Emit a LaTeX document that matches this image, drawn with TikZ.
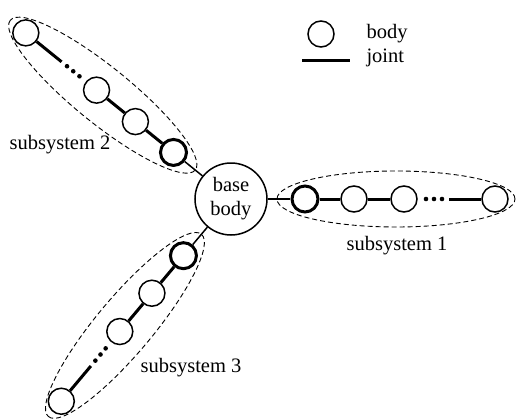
\documentclass[tikz,border=0pt]{standalone}
\usepackage{fontspec}
\setmainfont{Liberation Serif}
\usepackage{tikz}
\usetikzlibrary{shapes.geometric,positioning}
\tikzstyle{body}=[draw,circle,line width=1.5pt,minimum size=26pt,inner sep=0pt]
\tikzstyle{firstbody}=[body,line width=3pt]
\tikzstyle{basebody}=[draw,circle,line width=1.5pt,minimum size=72pt,inner sep=0pt,align=center]
\tikzstyle{joint}=[line width=3pt]
\tikzstyle{subsys}=[draw,dash pattern=on 5pt off 3pt,ellipse,line width=0.9pt,minimum width=238pt,minimum height=56pt,inner sep=0pt]

\begin{document}
\begin{tikzpicture}[x=1pt, y=1pt, font=\fontsize{20.5}{24}\selectfont]
    \useasboundingbox (-231,-219) rectangle (286,199);
    % Place base body
    \node[basebody] (base) at (0,0) {base\\body};

    % subsystem 1
    \node[subsys] (s1) at (0:165) {};
    \node[firstbody] (a1) at (0:74) {};
    \node[body] (a2) at (0:123) {};
    \node[body] (a3) at (0:173) {};
    \node[body] (a4) at (0:264) {};
    \coordinate (ea) at (0:218);
    \fill (0:195) circle (2.3) (0:203) circle (2.3) (0:211) circle (2.3);
    \node (l1) at (166,-47) {subsystem 1};

    % subsystem 2
    \node[subsys, rotate=141] (s2) at (141:165) {};
    \node[firstbody] (b1) at (141:74) {};
    \node[body] (b2) at (141:123) {};
    \node[body] (b3) at (141:173) {};
    \node[body] (b4) at (141:264) {};
    \coordinate (eb) at (141:218);
    \fill (141:195) circle (2.3) (141:203) circle (2.3) (141:211) circle (2.3);
    \node (l2) at (-171,54) {subsystem 2};

    % subsystem 3
    \node[subsys, rotate=230] (s3) at (230:165) {};
    \node[firstbody] (c1) at (230:74) {};
    \node[body] (c2) at (230:123) {};
    \node[body] (c3) at (230:173) {};
    \node[body] (c4) at (230:264) {};
    \coordinate (ec) at (230:218);
    \fill (230:195) circle (2.3) (230:203) circle (2.3) (230:211) circle (2.3);
    \node (l3) at (-40,-169) {subsystem 3};

     \path[line width=1.5pt] (base) edge (a1);
     \path[joint] (a1) edge (a2);
     \path[joint] (a2) edge (a3);
     \path[joint] (ea) edge (a4);

     \path[line width=1.5pt] (base) edge (b1);
     \path[joint] (b1) edge (b2);
     \path[joint] (b2) edge (b3);
     \path[joint] (eb) edge (b4);

     \path[line width=1.5pt] (base) edge (c1);
     \path[joint] (c1) edge (c2);
     \path[joint] (c2) edge (c3);
     \path[joint] (ec) edge (c4);

    % legend
    \node[body] (lb) at (90,165) {};
    \coordinate (lj1) at (71,139);
    \coordinate (lj2) at (119,139);
    \path[joint] (lj1) edge (lj2);
    \node[anchor=west] (tb) at (132,165) {body};
    \node[anchor=west] (tj) at (132,141) {joint};
\end{tikzpicture}
\end{document}
